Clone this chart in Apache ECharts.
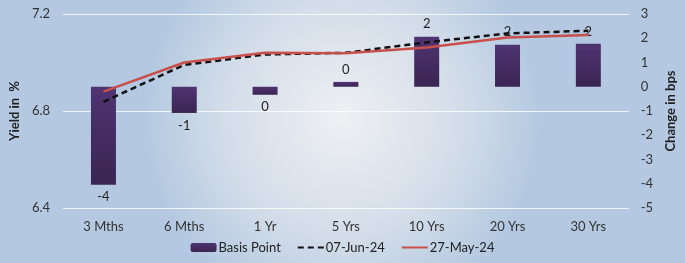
<!DOCTYPE html>
<html>
<head>
<meta charset="utf-8">
<script src="https://cdn.jsdelivr.net/npm/echarts@6/dist/echarts.min.js"></script>
<style>
  html, body { margin: 0; padding: 0; }
  #main { width: 685px; height: 263px; }
</style>
</head>
<body>
<div id="main"></div>
<script>
// tenors on the x axis
const categories = ['3 Mths', '6 Mths', '1 Yr', '5 Yrs', '10 Yrs', '20 Yrs', '30 Yrs'];
// change in bps (right axis)
const basisPoint = [-4.04, -1.08, -0.33, 0.2, 2.06, 1.73, 1.77];
// yields in % (left axis)
const jun07 = [6.838, 6.99, 7.033, 7.04, 7.083, 7.12, 7.131];
const may27 = [6.88, 7.0, 7.04, 7.038, 7.062, 7.103, 7.113];
const yieldTicks = [6.4, 7.2, 0.4];   // min, max, step
const bpsTicks = [-5, 3, 1];

const font = 'Lato, "Open Sans", sans-serif';
const myChart = echarts.init(document.getElementById('main'));

const barData = basisPoint.map(v => ({
    value: v,
    label: { position: v < 0 ? 'bottom' : 'top' }
}));

myChart.setOption({
    backgroundColor: {
        type: 'radial', x: 0.5, y: 0.45, r: 0.75,
        colorStops: [
            { offset: 0, color: '#eef0f3' },
            { offset: 0.6, color: '#d3dde9' },
            { offset: 1, color: '#b4c9e1' }
        ]
    },
    textStyle: { fontFamily: font },
    grid: { left: 53, right: 42, top: 14, bottom: 55 },
    legend: {
        bottom: 4,
        left: 'center',
        itemWidth: 26,
        itemHeight: 9,
        itemGap: 16,
        data: [
            'Basis Point',
            { name: '07-Jun-24', itemStyle: { opacity: 0 } },
            { name: '27-May-24', itemStyle: { opacity: 0 } }
        ],
        textStyle: { fontFamily: font, fontSize: 13, color: '#222', padding: [0, 0, 0, -3] }
    },
    xAxis: {
        type: 'category',
        data: categories,
        axisLine: { show: false },
        axisTick: { show: false },
        axisLabel: { fontSize: 13, color: '#333', margin: 12 }
    },
    yAxis: [
        {
            type: 'value',
            min: yieldTicks[0],
            max: yieldTicks[1],
            interval: yieldTicks[2],
            name: 'Yield in  %',
            nameLocation: 'middle',
            nameRotate: 90,
            nameGap: 36,
            nameTextStyle: { fontWeight: 'bold', fontSize: 13, color: '#222', fontFamily: font },
            axisLabel: { fontSize: 13, color: '#333', margin: 13, formatter: v => v.toFixed(1) },
            splitLine: { lineStyle: { color: 'rgba(255,255,255,0.8)', width: 1 } }
        },
        {
            type: 'value',
            min: bpsTicks[0],
            max: bpsTicks[1],
            interval: bpsTicks[2],
            position: 'right',
            name: 'Change in bps',
            nameLocation: 'middle',
            nameRotate: 90,
            nameGap: 30,
            nameTextStyle: { fontWeight: 'bold', fontSize: 13, color: '#222', fontFamily: font },
            axisLabel: { fontSize: 13, color: '#333', margin: 12 },
            splitLine: { show: false }
        }
    ],
    series: [
        {
            name: 'Basis Point',
            type: 'bar',
            yAxisIndex: 1,
            barWidth: 25,
            data: barData,
            itemStyle: {
                color: {
                    type: 'linear', x: 0, y: 0, x2: 0, y2: 1,
                    colorStops: [
                        { offset: 0, color: '#4f3472' },
                        { offset: 1, color: '#3a2552' }
                    ]
                }
            },
            label: {
                show: true,
                fontSize: 13,
                color: '#222',
                distance: 6,
                formatter: p => String(Math.round(p.value) || 0)
            }
        },
        {
            name: '07-Jun-24',
            type: 'line',
            yAxisIndex: 0,
            data: jun07,
            symbol: 'none',
            itemStyle: { color: '#111' },
            lineStyle: { color: '#111', width: 2.5, type: [6, 4] }
        },
        {
            name: '27-May-24',
            type: 'line',
            yAxisIndex: 0,
            data: may27,
            symbol: 'none',
            itemStyle: { color: '#c8504b' },
            lineStyle: { color: '#c8504b', width: 2.5 }
        }
    ]
});
</script>
</body>
</html>
